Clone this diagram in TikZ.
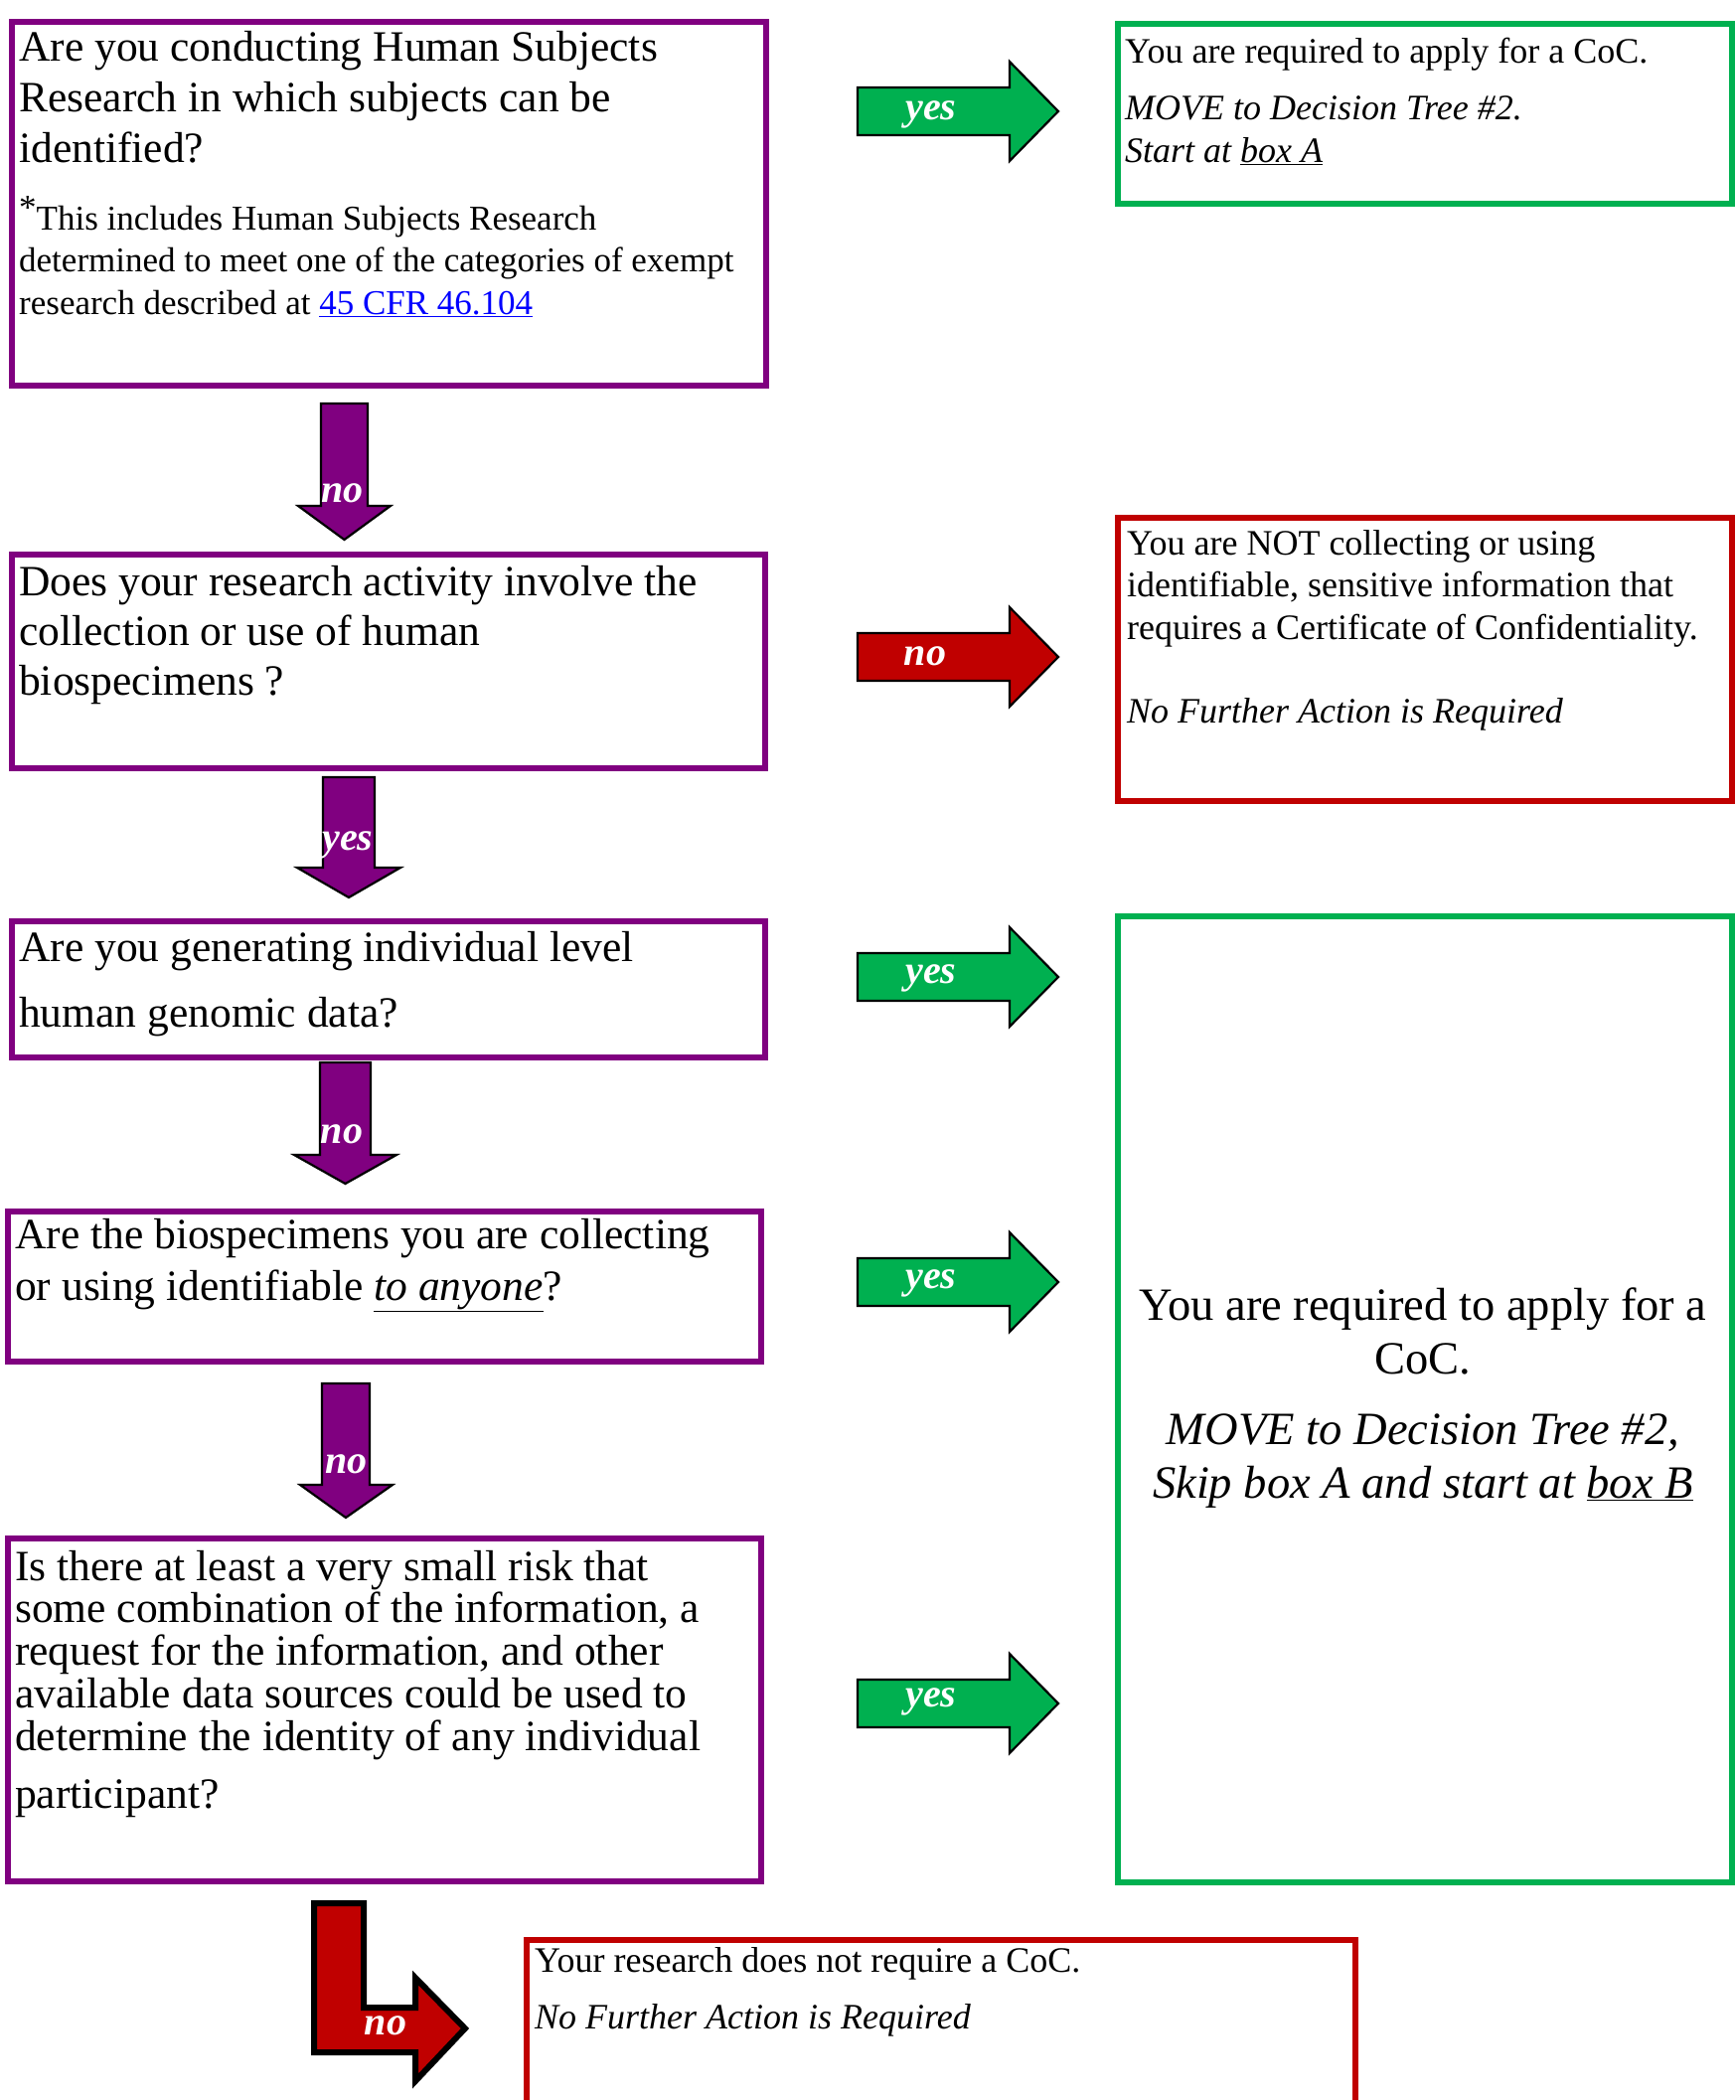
\documentclass[tikz,border=0pt]{standalone}
\usepackage{fontspec}
\setmainfont{Liberation Serif}
\usepackage{xcolor}
\definecolor{qpurple}{HTML}{800080}
\definecolor{okgreen}{HTML}{00B050}
\definecolor{stopred}{HTML}{C00000}
\definecolor{linkblue}{HTML}{0000FF}
\begin{document}
\begin{tikzpicture}[x=1pt, y=-1pt,
  qbox/.style={draw=qpurple, line width=5.5pt, anchor=north west, inner sep=0pt},
  gbox/.style={qbox, draw=okgreen},
  rbox/.style={qbox, draw=stopred},
  qtext/.style={anchor=base west, inner sep=0pt, text width=745pt, font=\fontsize{43.5}{51}\selectfont, execute at begin node={\spaceskip=.25em plus .1em minus .05em\relax}},
  ntext/.style={qtext, font=\fontsize{35}{42.5}\selectfont},
  atext/.style={qtext, text width=600pt, font=\fontsize{36}{43}\selectfont},
  parr/.style={fill=qpurple, draw=black, line width=2.2pt, line join=miter},
  garr/.style={parr, fill=okgreen},
  rarr/.style={parr, fill=stopred},
  albl/.style={anchor=base, text=white, inner sep=0pt, font=\fontsize{40}{40}\selectfont\bfseries\itshape}]
\useasboundingbox (0,0) rectangle (1747,2113);
% question boxes
\node[qbox, minimum width=759pt, minimum height=366pt] (q1) at (9,19) {};
\node[qbox, minimum width=758pt, minimum height=215pt] (q2) at (9,555) {};
\node[qbox, minimum width=758pt, minimum height=137pt] (q3) at (9,924) {};
\node[qbox, minimum width=758pt, minimum height=151pt] (q4) at (5,1216) {};
\node[qbox, minimum width=758pt, minimum height=345pt] (q5) at (5,1545) {};
% answer boxes
\node[gbox, minimum width=618pt, minimum height=181pt] (g1) at (1122,21) {};
\node[rbox, minimum width=618pt, minimum height=285pt] (r1) at (1122,518) {};
\node[gbox, minimum width=618pt, minimum height=972pt] (g2) at (1122,919) {};
\node[rbox, minimum width=834pt, minimum height=260pt] (r2) at (527,1949) {};
% texts
\node[qtext] (q1t) at (19,61.5) {Are you conducting Human Subjects\\Research in which subjects can be\\identified?};
\node[ntext] (q1n) at (19,231) {\raisebox{.3em}{*}This includes Human Subjects Research\\determined to meet one of the categories of exempt\\research described at \textcolor{linkblue}{\underline{45 CFR 46.104}}};
\node[qtext, font=\fontsize{43.5}{50}\selectfont] (q2t) at (19,599) {Does your research activity involve the\\collection or use of human\\biospecimens ?};
\node[qtext, font=\fontsize{43.5}{66}\selectfont] (q3t) at (19,967) {Are you generating individual level\\human genomic data?};
\node[qtext, font=\fontsize{43.5}{52}\selectfont] (q4t) at (15,1256) {Are the biospecimens you are collecting\\or using identifiable \textit{\underline{to anyone}}?};
\node[qtext, font=\fontsize{43.5}{42.8}\selectfont] (q5t) at (15,1590) {Is there at least a very small risk that\\some combination of the information, a\\request for the information, and other\\available data sources could be used to\\determine the identity of any individual\\[15pt]participant?};
\node[atext] (g1t) at (1132,63.7) {You are required to apply for a CoC.\\[14pt]\textit{MOVE to Decision Tree \#2.}\\\textit{Start at \underline{box A}}};
\node[atext, font=\fontsize{36}{42.5}\selectfont] (r1t) at (1134,558) {You are NOT collecting or using\\identifiable, sensitive information that\\requires a Certificate of Confidentiality.\\[42pt]\textit{No Further Action is Required}};
\node[atext, anchor=base, text width=620pt, font=\fontsize{46.5}{54}\selectfont] (g2t) at (1432,1328) {\centering You are required to apply for a\\CoC.\\[17pt]\textit{MOVE to Decision Tree \#2,}\\\textit{Skip box A and start at \underline{box B}}\par};
\node[atext] (r2t) at (538,1984) {Your research does not require a CoC.\\[14pt]\textit{No Further Action is Required}};
% right arrows
\draw[garr] (863,88) -- (1016,88) -- (1016,62) -- (1065,112) -- (1016,162) -- (1016,136) -- (863,136) -- cycle;
\draw[rarr] (863,637) -- (1016,637) -- (1016,611) -- (1065,661) -- (1016,711) -- (1016,685) -- (863,685) -- cycle;
\draw[garr] (863,959) -- (1016,959) -- (1016,933) -- (1065,983) -- (1016,1033) -- (1016,1007) -- (863,1007) -- cycle;
\draw[garr] (863,1266) -- (1016,1266) -- (1016,1240) -- (1065,1290) -- (1016,1340) -- (1016,1314) -- (863,1314) -- cycle;
\draw[garr] (863,1690) -- (1016,1690) -- (1016,1664) -- (1065,1714) -- (1016,1764) -- (1016,1738) -- (863,1738) -- cycle;
% down arrows
\draw[parr] (323,406) -- (370,406) -- (370,509) -- (393,509) -- (346.5,543) -- (300,509) -- (323,509) -- cycle;
\draw[parr] (325,782) -- (377,782) -- (377,873) -- (403,873) -- (351,903) -- (299,873) -- (325,873) -- cycle;
\draw[parr] (322,1069) -- (373,1069) -- (373,1162) -- (399,1162) -- (347.5,1191) -- (296,1162) -- (322,1162) -- cycle;
\draw[parr] (324,1392) -- (372,1392) -- (372,1494) -- (395,1494) -- (348,1527) -- (302,1494) -- (324,1494) -- cycle;
% bent arrow
\draw[rarr, line width=6pt] (316,1915) -- (366,1915) -- (366,2020) -- (418,2020) -- (418,1990) -- (468,2041) -- (418,2094) -- (418,2065) -- (316,2065) -- cycle;
% arrow labels
\node[albl] (y1) at (937,120) {yes};
\node[albl] (n1) at (931,669) {no};
\node[albl] (y2) at (937,989) {yes};
\node[albl] (y3) at (937,1296) {yes};
\node[albl] (y4) at (937,1717) {yes};
\node[albl] (d1) at (344.5,505) {no};
\node[albl] (d2) at (350,855) {yes};
\node[albl] (d3) at (344,1150) {no};
\node[albl] (d4) at (348.5,1482) {no};
\node[albl] (l1) at (388,2047) {no};
\end{tikzpicture}
\end{document}
